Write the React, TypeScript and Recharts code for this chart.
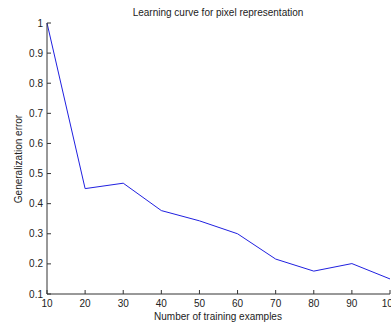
import React from "react";
import { LineChart, Line, XAxis, YAxis } from "recharts";

const trainingSizes = [10, 20, 30, 40, 50, 60, 70, 80, 90, 100];
const generalizationError = [1.0, 0.45, 0.468, 0.377, 0.343, 0.3, 0.216, 0.176, 0.201, 0.15];
const xTicks = [10, 20, 30, 40, 50, 60, 70, 80, 90, 100];
const yTicks = [0.1, 0.2, 0.3, 0.4, 0.5, 0.6, 0.7, 0.8, 0.9, 1];

const chartTitle = "Learning curve for pixel representation";
const xLabel = "Number of training examples";
const yLabel = "Generalization error";

const data = trainingSizes.map((n, i) => ({ n, err: generalizationError[i] }));

const W = 391;
const H = 326;
const FONT = "'Liberation Sans', Arial, sans-serif";
const INK = "#222";
const AXIS = "#333";
const TICK = 4;

const BottomTick = (props: any) => {
  const { x, y, payload } = props;
  return (
    <g>
      <line x1={x} y1={y} x2={x} y2={y - TICK} stroke={AXIS} />
      <text x={x} y={y + 9} textAnchor="middle" dominantBaseline="central" fontSize={10} fontFamily={FONT} fill={INK}>
        {payload.value}
      </text>
    </g>
  );
};

const TopTick = (props: any) => {
  const { x, y } = props;
  return <line x1={x} y1={y} x2={x} y2={y + TICK} stroke={AXIS} />;
};

const LeftTick = (props: any) => {
  const { x, y, payload } = props;
  return (
    <g>
      <line x1={x} y1={y} x2={x + TICK} y2={y} stroke={AXIS} />
      <text x={x - 4} y={y} textAnchor="end" dominantBaseline="central" fontSize={10} fontFamily={FONT} fill={INK}>
        {payload.value}
      </text>
    </g>
  );
};

const RightTick = (props: any) => {
  const { x, y } = props;
  return <line x1={x} y1={y} x2={x - TICK} y2={y} stroke={AXIS} />;
};

export default function App() {
  return (
    <div style={{ position: "absolute", left: 0, top: 0, width: W, height: H, background: "#fff", overflow: "hidden" }}>
      <LineChart width={W} height={H} data={data} margin={{ top: 23, right: 1, bottom: 0, left: 0 }}>
        <XAxis
          xAxisId="bottom"
          dataKey="n"
          type="number"
          domain={[10, 100]}
          ticks={xTicks}
          height={32}
          tickSize={0}
          tickMargin={0}
          stroke={AXIS}
          tick={<BottomTick />}
          interval={0}
        />
        <XAxis
          xAxisId="top"
          orientation="top"
          dataKey="n"
          type="number"
          domain={[10, 100]}
          ticks={xTicks}
          height={0}
          tickSize={0}
          tickMargin={0}
          stroke={AXIS}
          tick={<TopTick />}
          interval={0}
        />
        <YAxis
          yAxisId="left"
          type="number"
          domain={[0.1, 1]}
          ticks={yTicks}
          width={47}
          tickSize={0}
          tickMargin={0}
          stroke={AXIS}
          tick={<LeftTick />}
          interval={0}
        />
        <YAxis
          yAxisId="right"
          orientation="right"
          type="number"
          domain={[0.1, 1]}
          ticks={yTicks}
          width={0}
          tickSize={0}
          tickMargin={0}
          stroke={AXIS}
          tick={<RightTick />}
          interval={0}
        />
        <Line
          xAxisId="bottom"
          yAxisId="left"
          dataKey="err"
          type="linear"
          stroke="#2020e0"
          strokeWidth={1}
          dot={false}
          isAnimationActive={false}
        />
      </LineChart>
      <svg width={W} height={H} style={{ position: "absolute", left: 0, top: 0, pointerEvents: "none" }}>
        <text x={218} y={12} textAnchor="middle" dominantBaseline="central" fontSize={10} fontFamily={FONT} fill={INK}>
          {chartTitle}
        </text>
        <text x={218} y={316} textAnchor="middle" dominantBaseline="central" fontSize={10} fontFamily={FONT} fill={INK}>
          {xLabel}
        </text>
        <text
          x={18}
          y={159}
          textAnchor="middle"
          dominantBaseline="central"
          fontSize={10}
          fontFamily={FONT}
          fill={INK}
          transform="rotate(-90 18 159)"
        >
          {yLabel}
        </text>
      </svg>
    </div>
  );
}
